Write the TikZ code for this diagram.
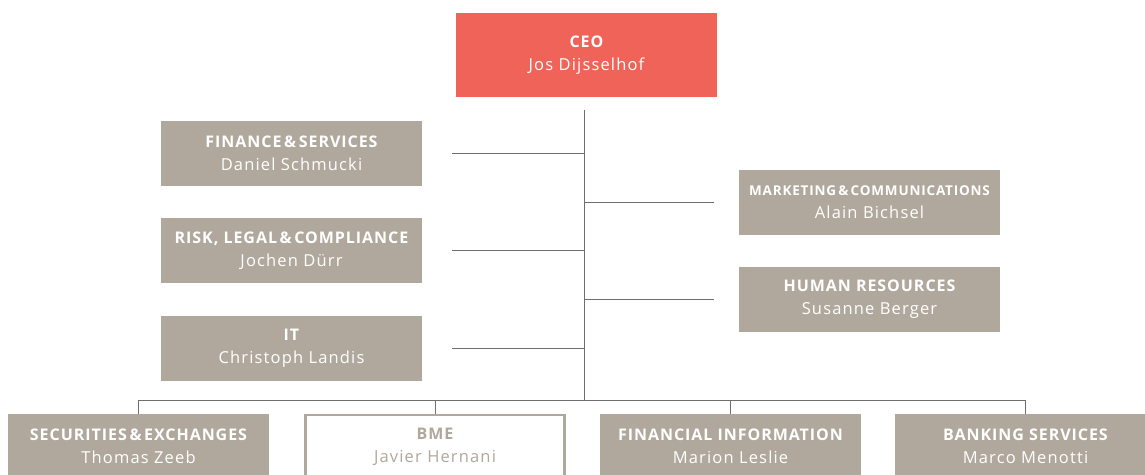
\documentclass[tikz,border=0pt]{standalone}
\usepackage{fontspec}
\setmainfont{Open Sans}[LetterSpace=7]
\newfontfamily\titlefam{Open Sans}[LetterSpace=6]
\usetikzlibrary{calc}
\definecolor{ceored}{RGB}{240,99,88}
\definecolor{boxgray}{RGB}{176,168,156}
\definecolor{linegray}{RGB}{110,110,110}
\newcommand\ttl[2][16]{{\titlefam\fontsize{#1}{23}\selectfont\bfseries #2}}
\tikzset{
  unit/.style={fill=boxgray, text=white, minimum width=261pt, minimum height=65pt,
    inner sep=0pt, align=center, font=\fontsize{16.5}{23}\selectfont},
  ceobox/.style={unit, fill=ceored, minimum height=84pt},
  outlinebox/.style={unit, fill=white, draw=boxgray, line width=2.5pt, text=boxgray,
    minimum width=259pt, minimum height=63pt},
  conn/.style={draw=linegray, line width=1pt}
}
\begin{document}
\begin{tikzpicture}[x=1pt,y=-1pt]
\useasboundingbox (0,0) rectangle (1145,474);
\clip (0,0) rectangle (1145,474);
% nodes
\node[ceobox] (ceo) at (586.5,55) {\ttl{CEO}\\Jos Dijsselhof};
\node[unit] (fin) at (291.5,153.5) {\ttl{FINANCE\,\&\,SERVICES}\\Daniel Schmucki};
\node[unit] (risk) at (291.5,250.5) {\ttl{RISK, LEGAL\,\&\,COMPLIANCE}\\Jochen Dürr};
\node[unit] (it) at (291.5,348.5) {\ttl{IT}\\Christoph Landis};
\node[unit] (mkt) at (869.5,202.5) {\ttl[13.5]{MARKETING\,\&\,COMMUNICATIONS}\\Alain Bichsel};
\node[unit] (hr) at (869.5,299.5) {\ttl{HUMAN RESOURCES}\\Susanne Berger};
\node[unit] (sec) at (138.5,446.5) {\ttl{SECURITIES\,\&\,EXCHANGES}\\Thomas Zeeb};
\node[outlinebox] (bme) at (435,446.5) {\ttl{BME}\\Javier Hernani};
\node[unit] (fi) at (730.5,446.5) {\ttl{FINANCIAL INFORMATION}\\Marion Leslie};
\node[unit] (bank) at (1025.5,446.5) {\ttl{BANKING SERVICES}\\Marco Menotti};
% trunk
\coordinate (top) at (584,110);
\coordinate (bot) at (584,400);
\draw[conn] (top) -- (bot);
% side branches
\foreach \n in {fin,risk,it}
  \draw[conn] ($(\n.east)+(30,0)$) -- (\n.east -| top);
\foreach \n in {mkt,hr}
  \draw[conn] (\n.west -| top) -- ($(\n.west)+(-25,0)$);
% bottom bus
\draw[conn] (sec.north |- bot) -- (bank.north |- bot);
\foreach \n in {sec,bme,fi,bank}
  \draw[conn] (\n.north |- bot) -- (\n.north);
\end{tikzpicture}
\end{document}
